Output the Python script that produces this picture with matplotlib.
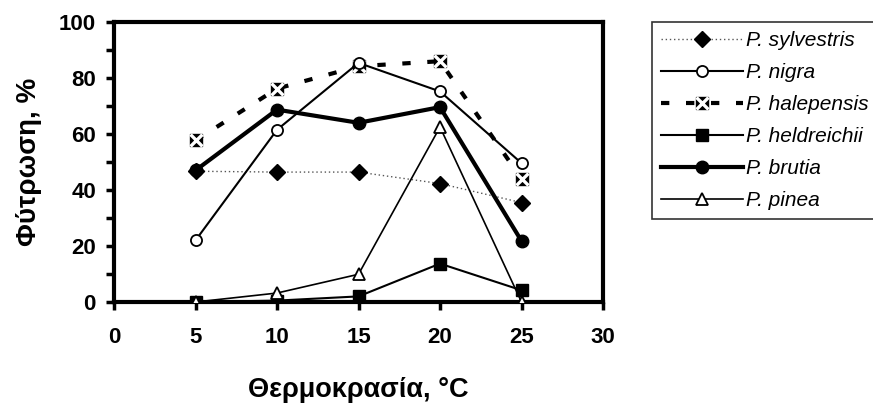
import matplotlib.pyplot as plt
from matplotlib.lines import Line2D

plt.rcParams['font.family'] = ['Liberation Sans', 'DejaVu Sans']

# Θερμοκρασία (°C) και φύτρωση (%) ανά είδος
temp = [5, 10, 15, 20, 25]
sylvestris = [46.7, 46.4, 46.4, 42.3, 35.5]
nigra = [22.0, 61.5, 85.4, 75.2, 49.6]
halepensis = [57.7, 76.2, 84.2, 86.0, 44.0]
heldreichii = [0.0, 0.5, 2.0, 13.7, 4.2]
brutia = [47.0, 68.7, 64.0, 69.6, 21.8]
pinea = [0.0, 3.2, 9.9, 62.5, 0.0]

fig = plt.figure(figsize=(8.73, 4.11), dpi=100)
ax = fig.add_axes([114/873, 1 - 302/411, (603 - 114)/873, (302 - 22)/411])

ax.plot(temp, sylvestris, color='#555555', lw=1, ls=(0, (1, 2)),
        marker='D', ms=8, mfc='black', mec='black', zorder=3)
ax.plot(temp, nigra, color='black', lw=1.5,
        marker='o', ms=8, mfc='white', mec='black', mew=1.3, zorder=4)
ax.plot(temp, halepensis, color='black', lw=3, dashes=(2, 4),
        marker='s', ms=8, mfc='black', mec='black', zorder=3)
ax.plot(temp, halepensis, ls='none', marker='x', ms=8, mec='white', mew=2.4, zorder=3)
ax.plot(temp, heldreichii, color='black', lw=1.5,
        marker='s', ms=8, mfc='black', mec='black', zorder=3)
ax.plot(temp, brutia, color='black', lw=3,
        marker='o', ms=9, mfc='black', mec='black', zorder=3)
ax.plot(temp, pinea, color='black', lw=1.2,
        marker='^', ms=8, mfc='white', mec='black', mew=1.3, zorder=5)

ax.set_xlim(0, 30)
ax.set_ylim(0, 100)
ax.set_xticks(range(0, 31, 5))
ax.set_yticks(range(0, 101, 20))
ax.set_yticks(range(10, 100, 20), minor=True)
ax.tick_params(which='both', direction='out', length=6, width=2.5,
               labelsize=16, pad=7)
ax.tick_params(axis='x', pad=12)
for lab in ax.get_xticklabels() + ax.get_yticklabels():
    lab.set_fontweight('bold')
for sp in ax.spines.values():
    sp.set_linewidth(3)

ax.set_xlabel('Θερμοκρασία, °C', fontsize=19.5, fontweight='bold', labelpad=21)
ax.set_ylabel('Φύτρωση, %', fontsize=20, fontweight='bold', labelpad=12)

handles = [
    Line2D([], [], color='#555555', lw=1, ls=(0, (1, 2)), marker='D', ms=8,
           mfc='black', mec='black'),
    Line2D([], [], color='black', lw=1.5, marker='o', ms=8, mfc='white',
           mec='black', mew=1.3),
    (Line2D([], [], color='black', lw=3, dashes=(2, 4), marker='s', ms=8,
            mfc='black', mec='black'),
     Line2D([], [], ls='none', marker='x', ms=8, mec='white', mew=2.4)),
    Line2D([], [], color='black', lw=1.5, marker='s', ms=8, mfc='black',
           mec='black'),
    Line2D([], [], color='black', lw=3, marker='o', ms=9, mfc='black',
           mec='black'),
    Line2D([], [], color='black', lw=1.2, marker='^', ms=8, mfc='white',
           mec='black', mew=1.3),
]
labels = ['P. sylvestris', 'P. nigra', 'P. halepensis', 'P. heldreichii',
          'P. brutia', 'P. pinea']
leg = fig.legend(handles, labels, loc='upper left',
                 bbox_to_anchor=(652/873, 1 - 22/411), borderaxespad=0,
                 prop={'style': 'italic', 'size': 15}, handlelength=3.9,
                 handletextpad=0.15, labelspacing=0.62, borderpad=0.45,
                 fancybox=False, edgecolor='#333333', framealpha=1)
leg.get_frame().set_linewidth(1.2)

fig.savefig('out.png', dpi=100)
